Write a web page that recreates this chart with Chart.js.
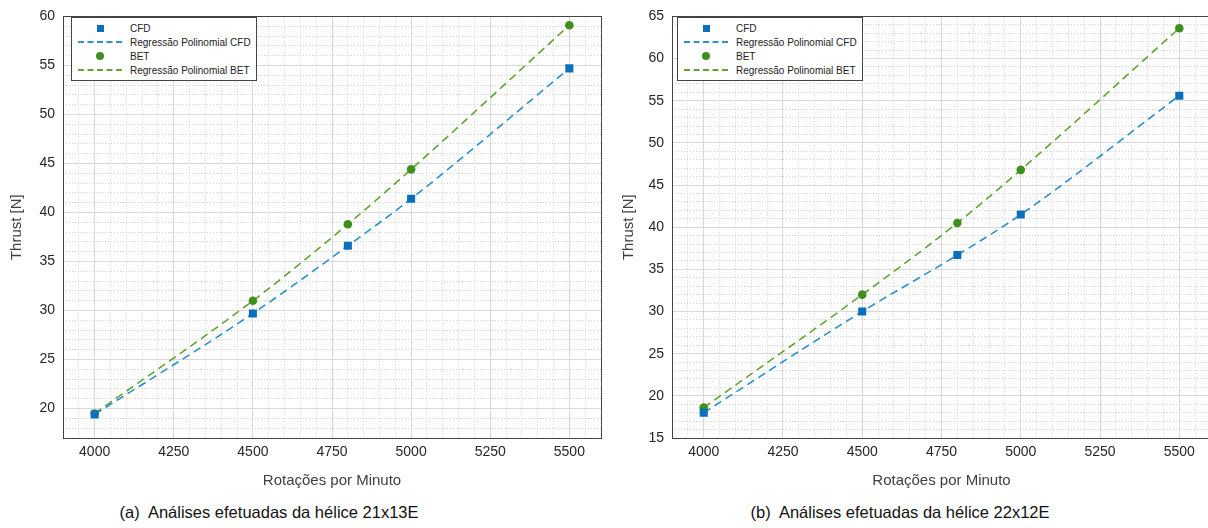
<!DOCTYPE html>
<html>
<head>
<meta charset="utf-8">
<script src="https://cdn.jsdelivr.net/npm/chart.js@4"></script>
<style>
  body { margin: 0; width: 1208px; height: 528px; overflow: hidden; background: #fff; font-family: "Liberation Sans", Arial, sans-serif; position: relative; }
  .wrap { position: absolute; top: 0; height: 500px; }
  .legend { position: absolute; background: #fff; border: 1px solid #444; font-size: 10px; color: #222; padding: 3px 5px 3px 2px; }
  .legend .row { height: 14px; display: flex; align-items: center; }
  .legend .sym { width: 52px; display: flex; justify-content: center; align-items: center; margin-right: 4px; }
  .caption { position: absolute; top: 503px; font-size: 16.5px; color: #111; white-space: pre; transform: translateX(-50%); }
</style>
</head>
<body>
<div class="wrap" style="left:0;width:612px"><canvas id="chartA"></canvas></div>
<div class="wrap" style="left:612px;width:620px"><canvas id="chartB"></canvas></div>
<div class="legend" id="legA" style="left:71px;top:17px"></div>
<div class="legend" id="legB" style="left:677px;top:17px"></div>
<div class="caption" style="left:269px">(a)  Análises efetuadas da hélice 21x13E</div>
<div class="caption" style="left:900px">(b)  Análises efetuadas da hélice 22x12E</div>
<script>
// rpm values tested
const rpm = [4000, 4500, 4800, 5000, 5500];

// 21x13E propeller
const cfdA = [19.4, 29.7, 36.6, 41.4, 54.7];
const betA = [19.5, 31.0, 38.8, 44.4, 59.1];

// 22x12E propeller
const cfdB = [18.0, 30.0, 36.7, 41.5, 55.6];
const betB = [18.6, 32.0, 40.5, 46.8, 63.6];

const legendLabels = ["CFD", "Regressão Polinomial CFD", "BET", "Regressão Polinomial BET"];
const xRange = [3900, 5600];
const yRangeA = [17, 60];
const yRangeB = [15, 65];

const cfdColor = "#0b6fbd";
const cfdLine = "#2b8fd0";
const betColor = "#3f8f1f";
const betLine = "#62a332";

function toXY(vals) {
  return rpm.map((r, i) => ({ x: r, y: vals[i] }));
}

function stepTicks(min, max, step) {
  let out = [];
  for (let v = min; v <= max + 1e-9; v += step) out.push({ value: v });
  return out;
}

// outer box like matlab
const boxPlugin = {
  id: "box",
  afterDatasetsDraw(chart) {
    let a = chart.chartArea;
    let ctx = chart.ctx;
    ctx.save();
    ctx.strokeStyle = "#444";
    ctx.lineWidth = 1;
    ctx.strokeRect(Math.round(a.left) + 0.5, Math.round(a.top) + 0.5, Math.round(a.right - a.left), Math.round(a.bottom - a.top));
    ctx.restore();
  }
};

function makeChart(id, cfd, bet, yRange, yWidth, pad) {
  let gridColor = (major) => (ctx) => {
    if (!ctx.tick) return "#ccc";
    return ctx.tick.value % major === 0 ? "#d9d9d9" : "#d2d2d2";
  };
  let gridDash = (major) => (ctx) => {
    if (!ctx.tick) return [];
    return ctx.tick.value % major === 0 ? [] : [1, 2];
  };

  new Chart(document.getElementById(id), {
    type: "scatter",
    data: {
      datasets: [
        { label: legendLabels[0], data: toXY(cfd), pointStyle: "rect", pointRadius: 5.7, backgroundColor: cfdColor, borderColor: cfdColor, borderWidth: 0, showLine: false, order: 1 },
        { label: legendLabels[1], data: toXY(cfd), showLine: true, pointRadius: 0, borderColor: cfdLine, borderWidth: 1.6, borderDash: [8, 5], cubicInterpolationMode: "monotone", order: 2 },
        { label: legendLabels[2], data: toXY(bet), pointStyle: "circle", pointRadius: 4.3, backgroundColor: betColor, borderColor: betColor, borderWidth: 0, showLine: false, order: 1 },
        { label: legendLabels[3], data: toXY(bet), showLine: true, pointRadius: 0, borderColor: betLine, borderWidth: 1.6, borderDash: [8, 5], cubicInterpolationMode: "monotone", order: 2 }
      ]
    },
    options: {
      responsive: false,
      animation: false,
      layout: { padding: { top: pad.top, right: pad.right, left: 0, bottom: 0 } },
      plugins: { legend: { display: false }, tooltip: { enabled: false } },
      scales: {
        x: {
          type: "linear",
          min: xRange[0],
          max: xRange[1],
          afterBuildTicks: (s) => { s.ticks = stepTicks(xRange[0], xRange[1], 50); },
          afterFit: (s) => { s.height = 62; },
          ticks: {
            autoSkip: false,
            maxRotation: 0,
            padding: 6,
            color: "#262626",
            font: { size: 14, family: "Liberation Sans" },
            callback: (v) => (v % 250 === 0 && v > xRange[0] && v < xRange[1] ? String(v) : "")
          },
          grid: { drawTicks: false, color: gridColor(250), lineWidth: 1 },
          border: { display: false, dash: gridDash(250) },
          title: { display: true, text: "Rotações por Minuto", color: "#404040", font: { size: 15, family: "Liberation Sans" }, padding: { top: 0, bottom: 10 } }
        },
        y: {
          min: yRange[0],
          max: yRange[1],
          afterBuildTicks: (s) => { s.ticks = stepTicks(yRange[0], yRange[1], 1); },
          afterFit: (s) => { s.width = yWidth; },
          ticks: {
            autoSkip: false,
            padding: 8,
            color: "#262626",
            font: { size: 14, family: "Liberation Sans" },
            callback: (v) => (v % 5 === 0 ? String(v) : "")
          },
          grid: { drawTicks: false, color: gridColor(5), lineWidth: 1 },
          border: { display: false, dash: gridDash(5) },
          title: { display: true, text: "Thrust [N]", color: "#404040", font: { size: 15, family: "Liberation Sans" }, padding: { top: 8, bottom: 2 } }
        }
      }
    },
    plugins: [boxPlugin]
  });
}

function makeLegend(id) {
  let el = document.getElementById(id);
  let syms = [
    `<div style="width:7px;height:7px;background:${cfdColor}"></div>`,
    `<div style="width:44px;border-top:2px dashed ${cfdLine}"></div>`,
    `<div style="width:8px;height:8px;border-radius:50%;background:${betColor}"></div>`,
    `<div style="width:44px;border-top:2px dashed ${betLine}"></div>`
  ];
  el.innerHTML = legendLabels.map((t, i) => `<div class="row"><div class="sym">${syms[i]}</div><span>${t}</span></div>`).join("");
}

let cA = document.getElementById("chartA");
cA.width = 612; cA.height = 500;
let cB = document.getElementById("chartB");
cB.width = 620; cB.height = 500;

makeChart("chartA", cfdA, betA, yRangeA, 63, { top: 14, right: 11 });
makeChart("chartB", cfdB, betB, yRangeB, 60, { top: 14, right: 21 });
makeLegend("legA");
makeLegend("legB");
</script>
</body>
</html>
